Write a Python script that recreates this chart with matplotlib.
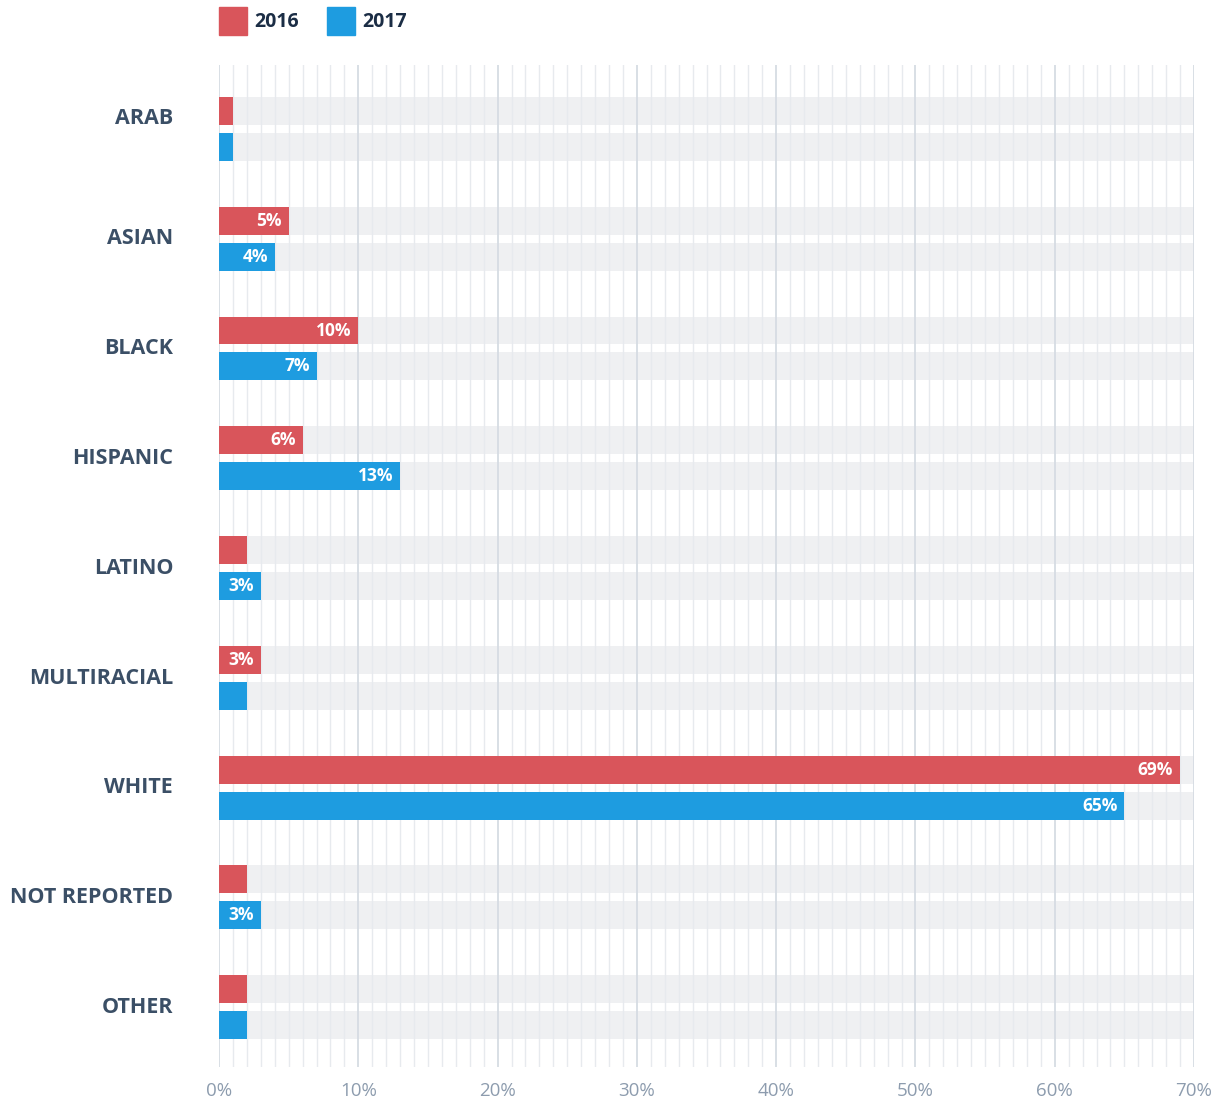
import numpy as np
import matplotlib.pyplot as plt
from matplotlib.patches import Rectangle

plt.rcParams['font.family'] = ['Open Sans', 'DejaVu Sans']

categories = ['ARAB', 'ASIAN', 'BLACK', 'HISPANIC', 'LATINO', 'MULTIRACIAL',
              'WHITE', 'NOT REPORTED', 'OTHER']
pct_2016 = [1, 5, 10, 6, 2, 3, 69, 2, 2]
pct_2017 = [1, 4, 7, 13, 3, 2, 65, 3, 2]
years = ['2016', '2017']
xticks = [0, 10, 20, 30, 40, 50, 60, 70]

RED = '#d9555b'
BLUE = '#1e9ce0'
TRACK = '#eff0f2'
LABEL = '#3b4f66'

fig = plt.figure(figsize=(12.26, 11.06), dpi=100)
ax = fig.add_axes([219 / 1226, 39 / 1106, 975 / 1226, 1002 / 1106])

y = np.arange(len(categories))
off = 0.1636
h = 0.2545
xmax = 70

# grey tracks behind every bar
for yy in y:
    for o in (-off, off):
        ax.barh(yy + o, xmax, height=h, color=TRACK, zorder=1)

# vertical grid: every 1%, darker every 10%
for v in range(0, xmax + 1):
    major = v % 10 == 0
    ax.axvline(v, color='#d6dce3' if major else '#e7eaee',
               lw=1.3 if major else 1.0, zorder=2)

for vals, o, col in ((pct_2016, -off, RED), (pct_2017, off, BLUE)):
    bars = ax.barh(y + o, vals, height=h, color=col, zorder=3)
    for b, v in zip(bars, vals):
        if v >= 3:
            ax.annotate(f'{v}%', (v, b.get_y() + h / 2), xytext=(-5, 0),
                        textcoords='offset points', ha='right', va='center',
                        color='white', fontsize=12.5, fontweight='bold', zorder=4)

ax.set_xlim(0, xmax)
ax.set_ylim(8.545, -0.582)
ax.set_xticks(xticks)
ax.set_xticklabels([f'{t}%' for t in xticks], color='#8d9cae', fontsize=13.5)
label_y = y - 0.02
label_y[0] = -0.12  # ARAB label sits a little higher
ax.set_yticks(label_y)
ax.set_yticklabels(categories, fontsize=15.5, fontweight='bold', color=LABEL)
ax.tick_params(axis='both', length=0)
ax.tick_params(axis='x', pad=11)
ax.tick_params(axis='y', pad=33)
for s in ax.spines.values():
    s.set_visible(False)

# legend squares along the top
for i, (yr, col) in enumerate(zip(years, (RED, BLUE))):
    x0 = 219 + i * 108
    fig.patches.append(Rectangle((x0 / 1226, 1 - 35 / 1106), 28 / 1226, 28 / 1106,
                                 transform=fig.transFigure, color=col))
    fig.text((x0 + 35) / 1226, 1 - 22 / 1106, yr, fontsize=14, fontweight='bold',
             color='#1b2d45', va='center', ha='left')

fig.savefig('out.png', dpi=100, facecolor='white')
